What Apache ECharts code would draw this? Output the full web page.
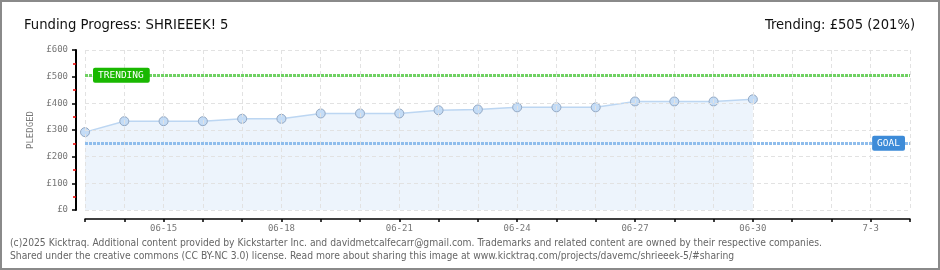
<!DOCTYPE html>
<html>
<head>
<meta charset="utf-8">
<script src="https://cdn.jsdelivr.net/npm/echarts@6/dist/echarts.min.js"></script>
<style>html,body{margin:0;padding:0;background:#fff}#c{width:940px;height:270px}</style>
</head>
<body>
<div id="c"></div>
<script>
const categories = ['06-13','06-14','06-15','06-16','06-17','06-18','06-19','06-20','06-21','06-22','06-23','06-24','06-25','06-26','06-27','06-28','06-29','06-30','7-1','7-2','7-3','7-4'];
const pledged = [292,333,333,333,342,342,362,362,362,374,377,385,385,385,407,407,407,415];
const goal = 250;
const trending = 505;
const yTicks = {min: 0, max: 600, interval: 100};
const titleText = 'Funding Progress: SHRIEEEK! 5';
const trendingText = 'Trending: £505 (201%)';
const footer1 = '(c)2025 Kicktraq. Additional content provided by Kickstarter Inc. and davidmetcalfecarr@gmail.com. Trademarks and related content are owned by their respective companies.';
const footer2 = 'Shared under the creative commons (CC BY-NC 3.0) license. Read more about sharing this image at www.kicktraq.com/projects/davemc/shrieeek-5/#sharing';

const narrow = '"Liberation Sans Narrow", "DejaVu Sans Condensed", sans-serif';
const mono = '"DejaVu Sans Mono", monospace';
const chart = echarts.init(document.getElementById('c'), null, {renderer: 'canvas'});
chart.setOption({
  animation: false,
  backgroundColor: '#fff',
  title: [
    {text: titleText, left: 19, top: 13, textStyle: {fontFamily: narrow, fontSize: 14.7, fontWeight: 'normal', color: '#111'}},
    {text: trendingText, right: 20, top: 13, textStyle: {fontFamily: narrow, fontSize: 14.6, fontWeight: 'normal', color: '#111'}}
  ],
  grid: {left: 85, right: 30, top: 50, bottom: 60, containLabel: false},
  xAxis: {
    type: 'category', data: categories, boundaryGap: false, offset: 9, z: 5,
    axisLine: {onZero: false, lineStyle: {color: '#000', width: 1.5}},
    axisTick: {interval: 0, length: 3, lineStyle: {color: '#000', width: 1.5}},
    axisLabel: {interval: (i) => i % 3 === 2, color: '#777', fontSize: 9, fontFamily: mono, margin: 5},
    splitLine: {show: true, interval: 0, lineStyle: {color: '#e2e2e2', type: [4, 3]}}
  },
  yAxis: {
    type: 'value', min: yTicks.min, max: yTicks.max, interval: yTicks.interval, offset: 9, z: 5,
    name: 'PLEDGED', nameLocation: 'middle', nameGap: 38, nameRotate: 90,
    nameTextStyle: {color: '#777', fontSize: 9, fontFamily: mono},
    axisLine: {show: true, onZero: false, lineStyle: {color: '#000', width: 2}},
    axisTick: {show: true, inside: false, length: 4, lineStyle: {color: '#000', width: 1.5}},
    minorTick: {show: true, splitNumber: 2, length: 3, lineStyle: {color: '#e00', width: 1.5}},
    axisLabel: {formatter: (v) => '£' + v, color: '#777', fontSize: 9, fontFamily: mono, margin: 8},
    splitLine: {show: true, lineStyle: {color: '#e2e2e2', type: [4, 3]}}
  },
  series: [{
    type: 'line', data: pledged, symbol: 'circle', symbolSize: 9,
    lineStyle: {color: '#bcd6f2', width: 1.5},
    itemStyle: {color: '#c4dcf6', borderColor: '#94a9c4', borderWidth: 1},
    areaStyle: {color: '#edf4fc', opacity: 1},
    markLine: {
      silent: true, symbol: ['none', 'none'],
      data: [
        {yAxis: trending, lineStyle: {color: '#6fd162', width: 3, type: [3, 1]},
         label: {formatter: 'TRENDING', position: 'insideStart', verticalAlign: 'middle', distance: 8, color: '#fff', backgroundColor: '#19b800', padding: [3, 6, 2, 5], borderRadius: 2, fontSize: 9.5, fontFamily: mono}},
        {yAxis: goal, lineStyle: {color: '#8fbdec', width: 3, type: [3, 1]},
         label: {formatter: 'GOAL', position: 'insideEnd', verticalAlign: 'middle', distance: 5, color: '#fff', backgroundColor: '#3d8bd8', padding: [3, 5, 2, 5], borderRadius: 2, fontSize: 9.5, fontFamily: mono}}
      ]
    }
  }],
  graphic: [
    {type: 'rect', shape: {x: 1, y: 1, width: 938, height: 268}, style: {fill: 'none', stroke: '#8a8a8a', lineWidth: 2}, silent: true},
    {type: 'text', left: 10, top: 238, style: {text: footer1, fill: '#666', fontSize: 10.25, fontFamily: narrow}},
    {type: 'text', left: 10, top: 251, style: {text: footer2, fill: '#666', fontSize: 10.25, fontFamily: narrow}}
  ]
});
</script>
</body>
</html>
